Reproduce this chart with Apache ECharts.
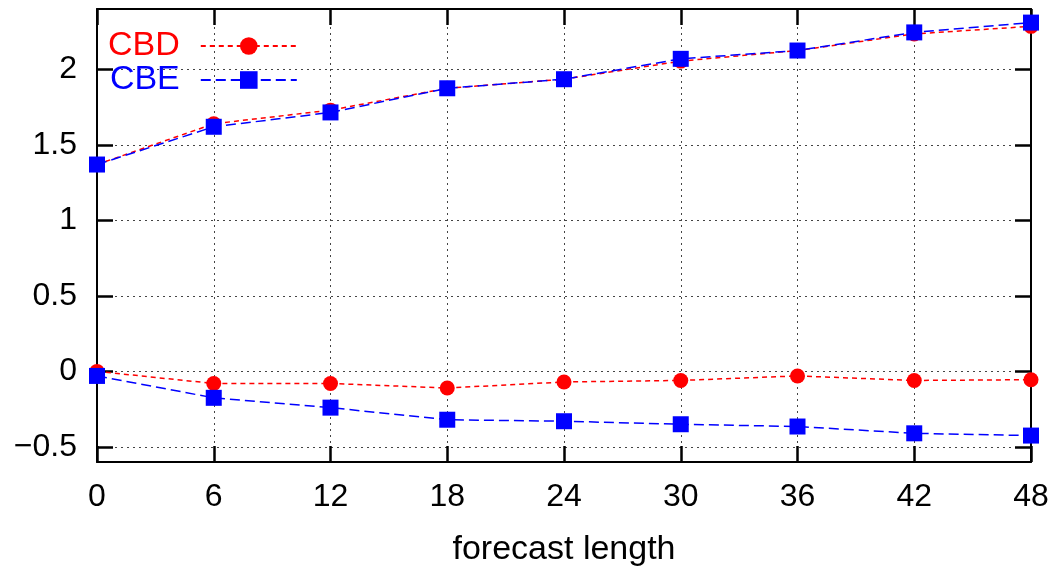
<!DOCTYPE html>
<html>
<head>
<meta charset="utf-8">
<script src="https://cdn.jsdelivr.net/npm/echarts@6/dist/echarts.min.js"></script>
<style>
  html, body { margin: 0; padding: 0; background: #fff; }
  #chart-wrapper { width: 1054px; height: 572px; }
</style>
</head>
<body>
<div id="chart-wrapper"></div>
<script>
// forecast length (hours)
const leadTimes = [0, 6, 12, 18, 24, 30, 36, 42, 48];
// upper curves
const cbdUpper = [1.37, 1.64, 1.73, 1.875, 1.935, 2.055, 2.125, 2.235, 2.285];
const cbeUpper = [1.37, 1.62, 1.715, 1.875, 1.935, 2.07, 2.125, 2.245, 2.31];
// lower curves
const cbdLower = [0.0, -0.08, -0.08, -0.11, -0.07, -0.06, -0.03, -0.06, -0.055];
const cbeLower = [-0.03, -0.175, -0.24, -0.32, -0.33, -0.35, -0.365, -0.41, -0.425];
const yTicks = [-0.5, 0, 0.5, 1, 1.5, 2];

const fontFamily = "'Liberation Sans', Arial, sans-serif";
const red = "#ff0000";
const blue = "#0000ff";

const pairs = (ys) => leadTimes.map((x, i) => [x, ys[i]]);

const lineSeries = (name, ys, color, symbol, size, dash) => ({
  name: name,
  type: "line",
  data: pairs(ys),
  symbol: symbol,
  symbolSize: size,
  showSymbol: true,
  animation: false,
  itemStyle: { color: color },
  lineStyle: { color: color, width: 1.5, type: dash },
  emphasis: { disabled: true },
});

// frame: all four axis lines sit on the grid edges, ticks point inwards
const frameLine = { show: true, onZero: false, lineStyle: { color: "#000", width: 2 } };
const tickIn = { show: true, inside: true, length: 16, lineStyle: { color: "#000", width: 2.5 } };
const dotted = { show: true, lineStyle: { color: "#444", width: 1, type: [2, 4] } };

const chart = echarts.init(document.getElementById("chart-wrapper"));

const option = {
  backgroundColor: "#fff",
  animation: false,
  textStyle: { fontFamily: fontFamily },
  grid: { left: 97, right: 23, top: 9, bottom: 109, containLabel: false },
  legend: {
    left: 103,
    top: 24,
    orient: "vertical",
    align: "right",
    itemGap: 0,
    itemWidth: 96,
    itemHeight: 22,
    selectedMode: false,
    data: [
      { name: "CBD", textStyle: { color: red } },
      { name: "CBE", textStyle: { color: blue } },
    ],
    textStyle: {
      fontSize: 34,
      fontFamily: fontFamily,
      lineHeight: 34,
      padding: [0, 16, 0, 0],
    },
  },
  xAxis: [
    {
      type: "value",
      min: 0,
      max: 48,
      interval: 6,
      position: "bottom",
      name: "forecast length",
      nameLocation: "middle",
      nameGap: 71,
      nameTextStyle: { fontSize: 34, color: "#000", fontFamily: fontFamily },
      axisLine: frameLine,
      axisTick: tickIn,
      splitLine: dotted,
      axisLabel: { color: "#000", fontSize: 32, margin: 19, fontFamily: fontFamily },
    },
    {
      type: "value",
      min: 0,
      max: 48,
      interval: 6,
      position: "top",
      axisLine: frameLine,
      axisTick: tickIn,
      splitLine: { show: false },
      axisLabel: { show: false },
    },
  ],
  yAxis: [
    {
      type: "value",
      min: -0.6,
      max: 2.4,
      position: "left",
      axisLine: frameLine,
      axisTick: Object.assign({ customValues: yTicks }, tickIn),
      splitLine: dotted,
      axisLabel: {
        customValues: yTicks,
        color: "#000",
        fontSize: 32,
        margin: 20,
        fontFamily: fontFamily,
        formatter: (v) => (v < 0 ? "\u2212" + String(-v) : String(v)),
      },
    },
    {
      type: "value",
      min: -0.6,
      max: 2.4,
      position: "right",
      axisLine: frameLine,
      axisTick: Object.assign({ customValues: yTicks }, tickIn),
      splitLine: { show: false },
      axisLabel: { show: false, customValues: yTicks },
    },
  ],
  series: [
    lineSeries("CBD", cbdUpper, red, "circle", 15, [5, 4]),
    lineSeries("CBD", cbdLower, red, "circle", 15, [5, 4]),
    lineSeries("CBE", cbeUpper, blue, "rect", 16, [10, 5]),
    lineSeries("CBE", cbeLower, blue, "rect", 16, [10, 5]),
  ],
};

chart.setOption(option);
</script>
</body>
</html>
